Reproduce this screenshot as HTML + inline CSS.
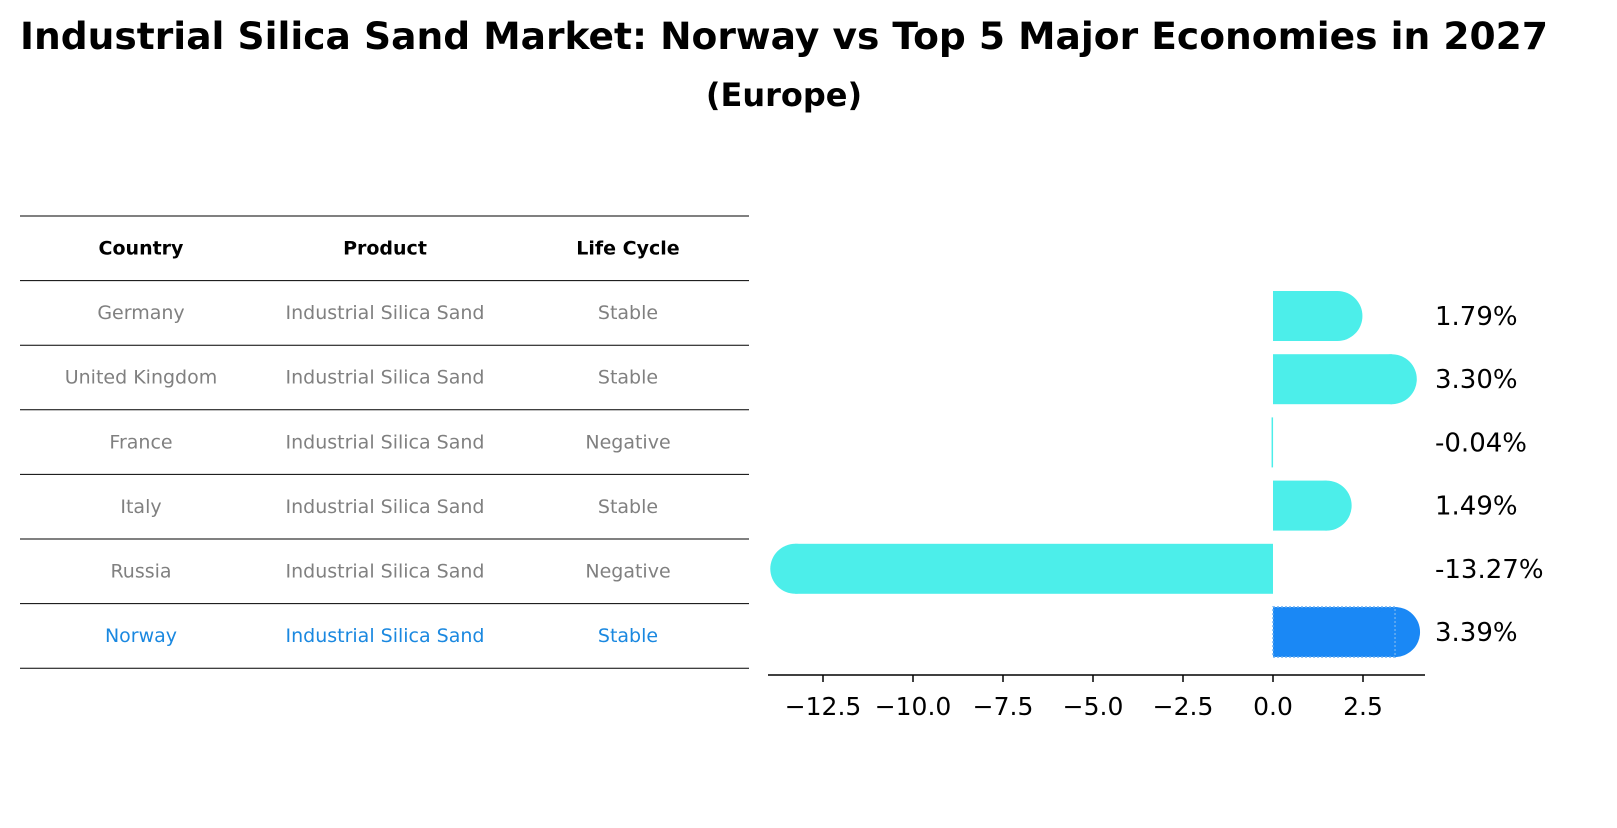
<!DOCTYPE html>
<html><head><meta charset="utf-8"><style>
body{margin:0;background:#fff;font-family:"Liberation Sans","DejaVu Sans",sans-serif;}
</style></head><body>
<svg width="1617" height="823" xmlns="http://www.w3.org/2000/svg" font-family="DejaVu Sans, Liberation Sans, sans-serif">
<text x="784" y="49" text-anchor="middle" font-size="37.5" font-weight="bold" textLength="1528" lengthAdjust="spacingAndGlyphs">Industrial Silica Sand Market: Norway vs Top 5 Major Economies in 2027</text>
<text x="784" y="106" text-anchor="middle" font-size="32" font-weight="bold">(Europe)</text>
<g id="table"></g>
<g id="bars"></g>
</svg>
<script>
const countries=["Germany","United Kingdom","France","Italy","Russia","Norway"];
const products=["Industrial Silica Sand","Industrial Silica Sand","Industrial Silica Sand","Industrial Silica Sand","Industrial Silica Sand","Industrial Silica Sand"];
const lifeCycles=["Stable","Stable","Negative","Stable","Negative","Stable"];
const growth=[1.79,3.30,-0.04,1.49,-13.27,3.39];
const tickValues=[-12.5,-10,-7.5,-5,-2.5,0,2.5];
const NS="http://www.w3.org/2000/svg";
function mk(t,a,p){const e=document.createElementNS(NS,t);for(const k in a)e.setAttribute(k,a[k]);p.appendChild(e);return e;}
const tb=document.getElementById('table');
const colX=[141,385,628];
const rowY=i=>216+i*64.6;
for(let i=0;i<8;i++){const l=mk('line',{x1:20,x2:749,y1:rowY(i),y2:rowY(i),stroke:'#000','stroke-width':1},tb);

}
["Country","Product","Life Cycle"].forEach((h,j)=>{const t=mk('text',{x:colX[j],y:rowY(0)+38.5,'text-anchor':'middle','font-size':19,'font-weight':'bold'},tb);t.textContent=h;

});
countries.forEach((c,i)=>{const col=i===countries.length-1?'#1a88e0':'#808080';
[c,products[i],lifeCycles[i]].forEach((v,j)=>{const t=mk('text',{x:colX[j],y:rowY(i+1)+38.5,'text-anchor':'middle','font-size':19,fill:col},tb);t.textContent=v;

});});
const bg=document.getElementById('bars');
const x0=1273,ppu=36;const X=v=>x0+v*ppu;
const yC=i=>316+i*63.2;const h=50,r=25;
growth.forEach((v,i)=>{const last=i===growth.length-1;const fill=last?'#1a88f5':'#4ceeea';
const a=Math.min(X(0),X(v)),b=Math.max(X(0),X(v));
const rect=mk('rect',{x:a,y:yC(i)-h/2,width:Math.max(b-a,1.5),height:h,fill:fill},bg);


if(Math.abs(v)>0.5){const cx=v>0?b:a;
const cap=mk('circle',{cx:cx,cy:yC(i),r:r,fill:fill},bg);

}
if(last){const o=mk('rect',{x:a,y:yC(i)-h/2,width:b-a,height:h,fill:'none',stroke:'#6aaef0','stroke-dasharray':'2,2','stroke-width':1.5},bg);

}
const t=mk('text',{x:1435,y:yC(i)+9,'font-size':26},bg);t.textContent=v.toFixed(2)+'%';

});
const ax=mk('line',{x1:768,x2:1425,y1:675,y2:675,stroke:'#000','stroke-width':1.5},bg);


tickValues.forEach(v=>{const tk=mk('line',{x1:X(v),x2:X(v),y1:675,y2:682,stroke:'#000','stroke-width':1.5},bg);


const t=mk('text',{x:X(v),y:715,'text-anchor':'middle','font-size':25},bg);t.textContent=(v<0?'\u2212':'')+Math.abs(v).toFixed(1);

});
</script>
</body></html>
